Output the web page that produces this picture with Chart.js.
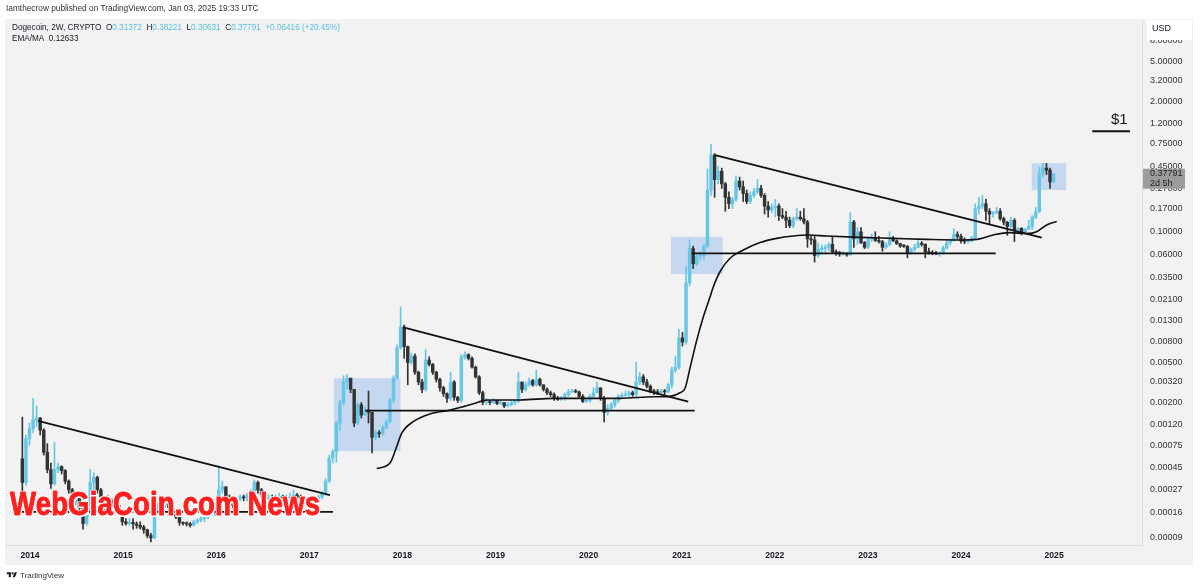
<!DOCTYPE html>
<html>
<head>
<meta charset="utf-8">
<script src="https://cdn.jsdelivr.net/npm/chart.js@4.4.1/dist/chart.umd.min.js"></script>
<style>
  html, body { margin: 0; padding: 0; background: #fff; }
  #wrap { position: relative; width: 1200px; height: 586px; overflow: hidden; font-family: "Liberation Sans", Arial, sans-serif; }
  canvas { position: absolute; left: 0; top: 0; }
  .txt { position: absolute; white-space: nowrap; color: #131722; line-height: 1.15; }
  .v { color: #5cc0e0; }
  #mark { left: 10px; top: 484px; font-family: "Liberation Sans", Arial, sans-serif;
          font-weight: bold; font-size: 34px; color: #ff1f1f; letter-spacing: 0.2px;
          transform: scaleX(0.81); transform-origin: 0 0;
          -webkit-text-stroke: 1px #ff1f1f;
          text-shadow: 1.5px 1.5px 0 #fff, -1.5px -1.5px 0 #fff, 1.5px -1.5px 0 #fff, -1.5px 1.5px 0 #fff, 0 0 3px #fff; }
</style>
</head>
<body>
<div id="wrap">
  <canvas id="chart" width="1200" height="586"></canvas>
  <div class="txt" style="left:6px;top:4px;font-size:8.3px;color:#333">Iamthecrow published on TradingView.com, Jan 03, 2025 19:33 UTC</div>
  <div class="txt" style="left:12px;top:23px;font-size:8.2px">Dogecoin, 2W, CRYPTO&nbsp; O<span class="v">0.31372</span>&nbsp; H<span class="v">0.38221</span>&nbsp; L<span class="v">0.30631</span>&nbsp; C<span class="v">0.37791</span>&nbsp; <span class="v">+0.06416 (+20.45%)</span></div>
  <div class="txt" style="left:12px;top:34px;font-size:8.2px">EMA/MA&nbsp; 0.12633</div>
  <div class="txt" style="left:1111px;top:110px;font-size:15px">$1</div>
  <div class="txt" id="mark">WebGiaCoin.com News</div>
  <div class="txt" style="left:6px;top:571px;font-size:8px;color:#333">
    <svg width="12" height="8" viewBox="0 0 36 28" style="vertical-align:-1px"><path d="M14 22H7V11H0V4h14v18zM28 22h-8l7.5-18h8L28 22z" fill="#131722"/><circle cx="20" cy="8" r="4" fill="#131722"/></svg> TradingView</div>
</div>
<script>
// =======================
// Data (2W candles, first bar opens 2013-12-02)
// =======================
const firstOpen = 0.00055;
const closes = [
  0.00032, 0.00088, 0.00110, 0.00135, 0.00140, 0.00106, 0.00064, 0.00043, 0.00031, 0.00043,
  0.00046, 0.00042, 0.00033, 0.00027, 0.00021, 0.00023, 0.00018, 0.000125, 0.00017, 0.00032,
  0.00036, 0.00027, 0.00020, 0.00018, 0.00021, 0.00020, 0.00019, 0.00016, 0.00013, 0.000125,
  0.000128, 0.000124, 0.00012, 0.000115, 0.000108, 0.000095, 0.00009, 0.000175, 0.000185, 0.00019,
  0.00021, 0.00018, 0.000155, 0.000145, 0.000128, 0.000125, 0.000124, 0.00012, 0.00013, 0.000135,
  0.00014, 0.000145, 0.00015, 0.000158, 0.000175, 0.00027, 0.00029, 0.00023, 0.00021, 0.00019,
  0.00022, 0.00023, 0.000225, 0.00024, 0.00025, 0.00032, 0.00027, 0.00024, 0.00022, 0.000225,
  0.00022, 0.000228, 0.00023, 0.00022, 0.000225, 0.00023, 0.00024, 0.00023, 0.00022, 0.00021,
  0.000205, 0.00021, 0.00022, 0.00023, 0.00025, 0.00033, 0.00056, 0.00065, 0.00125, 0.0020,
  0.0032, 0.0035, 0.0027, 0.00125, 0.0019, 0.0015, 0.00168, 0.0016, 0.0009, 0.0010,
  0.00098, 0.00112, 0.00128, 0.00212, 0.0035, 0.0070, 0.0113, 0.0072, 0.0050, 0.0058,
  0.0040, 0.0032, 0.0027, 0.0053, 0.0048, 0.0040, 0.0034, 0.0028, 0.00245, 0.0022,
  0.0032, 0.00225, 0.0021, 0.0057, 0.0060, 0.0055, 0.0045, 0.0036, 0.0025, 0.0020,
  0.00205, 0.0020, 0.0021, 0.00195, 0.0020, 0.00185, 0.0019, 0.0020, 0.00205, 0.0032,
  0.0027, 0.0030, 0.0033, 0.0030, 0.0034, 0.0030, 0.0027, 0.0025, 0.0024, 0.0022,
  0.00215, 0.0022, 0.0024, 0.00255, 0.0026, 0.00255, 0.0023, 0.00205, 0.0021, 0.0023,
  0.0025, 0.0028, 0.0022, 0.0016, 0.00175, 0.0019, 0.0021, 0.0023, 0.00235, 0.0024,
  0.0025, 0.0024, 0.0032, 0.0036, 0.0032, 0.0029, 0.0026, 0.00255, 0.0025, 0.0026,
  0.00255, 0.0030, 0.0042, 0.0045, 0.0088, 0.0080, 0.031, 0.068, 0.048, 0.057,
  0.058, 0.072, 0.26, 0.58, 0.33, 0.40, 0.30, 0.22, 0.19, 0.21,
  0.32, 0.28, 0.24, 0.20, 0.23, 0.25, 0.27, 0.23, 0.18, 0.165,
  0.175, 0.18, 0.145, 0.14, 0.13, 0.115, 0.135, 0.14, 0.135, 0.125,
  0.085, 0.083, 0.058, 0.067, 0.068, 0.070, 0.075, 0.063, 0.062, 0.060,
  0.061, 0.059, 0.125, 0.085, 0.10, 0.078, 0.070, 0.085, 0.088, 0.082,
  0.080, 0.070, 0.074, 0.084, 0.081, 0.076, 0.072, 0.0715, 0.061, 0.067,
  0.070, 0.077, 0.075, 0.063, 0.062, 0.061, 0.060, 0.061, 0.069, 0.078,
  0.083, 0.094, 0.090, 0.081, 0.080, 0.081, 0.087, 0.17, 0.18, 0.19,
  0.16, 0.15, 0.155, 0.16, 0.135, 0.124, 0.113, 0.13, 0.103, 0.108,
  0.099, 0.106, 0.113, 0.140, 0.158, 0.38, 0.43, 0.41, 0.31372, 0.37791
];
const highs = [
  0.00143, 0.00095, 0.00125, 0.00220, 0.00185, 0.00142, 0.00110, 0.00078, 0.00050, 0.00080,
  0.00050, 0.00047, 0.00043, 0.00034, 0.00028, 0.00026, 0.00024, 0.00018, 0.00018, 0.00043,
  0.00040, 0.00037, 0.00028, 0.00022, 0.00024, 0.00022, 0.00021, 0.00020, 0.00017, 0.00014,
  0.00014, 0.00014, 0.00013, 0.00013, 0.00012, 0.00011, 0.0001, 0.000185, 0.00020, 0.00021,
  0.00023, 0.00021, 0.00019, 0.00016, 0.00015, 0.00013, 0.00013, 0.000128, 0.000135, 0.00014,
  0.000145, 0.00015, 0.000155, 0.000165, 0.00018, 0.00047, 0.00033, 0.00029, 0.00024, 0.00022,
  0.00023, 0.00024, 0.00024, 0.00025, 0.00027, 0.00034, 0.00033, 0.00028, 0.00025, 0.00024,
  0.00024, 0.00024, 0.00025, 0.00024, 0.00024, 0.00025, 0.00027, 0.00025, 0.00024, 0.00023,
  0.00022, 0.00022, 0.00023, 0.00024, 0.00026, 0.00035, 0.00060, 0.00068, 0.00130, 0.00210,
  0.0037, 0.0038, 0.0034, 0.0027, 0.0020, 0.0020, 0.0018, 0.0026, 0.0016, 0.00106,
  0.00105, 0.00118, 0.00135, 0.0022, 0.0037, 0.0075, 0.0179, 0.0118, 0.0073, 0.0062,
  0.0061, 0.0041, 0.0034, 0.0067, 0.0057, 0.0049, 0.0041, 0.0035, 0.0029, 0.0025,
  0.0040, 0.0033, 0.0023, 0.0060, 0.0064, 0.0061, 0.0057, 0.0046, 0.0037, 0.0026,
  0.0022, 0.0021, 0.0022, 0.0021, 0.0021, 0.0020, 0.0020, 0.00205, 0.0021, 0.0040,
  0.0032, 0.0032, 0.0035, 0.0034, 0.0042, 0.0035, 0.0030, 0.0028, 0.0026, 0.0025,
  0.0023, 0.0023, 0.0025, 0.0027, 0.0027, 0.0027, 0.0026, 0.0024, 0.0022, 0.0024,
  0.0028, 0.0032, 0.0028, 0.0023, 0.0019, 0.0020, 0.0022, 0.0024, 0.0025, 0.0026,
  0.0026, 0.0026, 0.0050, 0.0040, 0.0038, 0.0034, 0.0030, 0.0027, 0.0027, 0.0027,
  0.0027, 0.0031, 0.0045, 0.0058, 0.0107, 0.0100, 0.045, 0.083, 0.072, 0.060,
  0.063, 0.075, 0.42, 0.74, 0.60, 0.45, 0.43, 0.31, 0.25, 0.22,
  0.36, 0.35, 0.32, 0.26, 0.25, 0.27, 0.33, 0.29, 0.24, 0.20,
  0.19, 0.21, 0.19, 0.17, 0.16, 0.14, 0.14, 0.17, 0.16, 0.17,
  0.13, 0.09, 0.09, 0.077, 0.074, 0.074, 0.078, 0.088, 0.066, 0.064,
  0.064, 0.062, 0.155, 0.13, 0.11, 0.11, 0.08, 0.088, 0.095, 0.10,
  0.09, 0.082, 0.078, 0.10, 0.09, 0.083, 0.077, 0.075, 0.073, 0.069,
  0.075, 0.082, 0.08, 0.076, 0.069, 0.065, 0.064, 0.063, 0.072, 0.083,
  0.085, 0.107, 0.10, 0.095, 0.087, 0.082, 0.09, 0.19, 0.22, 0.23,
  0.21, 0.17, 0.16, 0.175, 0.17, 0.14, 0.127, 0.14, 0.135, 0.11,
  0.11, 0.108, 0.13, 0.145, 0.175, 0.44, 0.48, 0.48, 0.43, 0.38221
];
const lows = [
  0.00024, 0.00030, 0.00075, 0.00100, 0.00115, 0.00095, 0.00060, 0.00040, 0.00028, 0.00030,
  0.00040, 0.00039, 0.00031, 0.00025, 0.00020, 0.00019, 0.00016, 0.00011, 0.00012, 0.00016,
  0.00027, 0.00025, 0.00019, 0.00016, 0.00017, 0.00018, 0.00017, 0.00015, 0.00012, 0.00012,
  0.00012, 0.00011, 0.000112, 0.00011, 0.00010, 0.00009, 0.000082, 0.000088, 0.00016, 0.00017,
  0.00018, 0.000175, 0.00015, 0.00014, 0.00012, 0.00012, 0.000118, 0.000115, 0.000118, 0.000125,
  0.00013, 0.00013, 0.00014, 0.00015, 0.00015, 0.00017, 0.00025, 0.00022, 0.0002, 0.00018,
  0.00018, 0.00021, 0.00021, 0.00021, 0.00023, 0.00024, 0.00025, 0.00023, 0.00021, 0.00021,
  0.00021, 0.00021, 0.00022, 0.00021, 0.00021, 0.00022, 0.00022, 0.00022, 0.00021, 0.0002,
  0.00019, 0.0002, 0.00021, 0.00022, 0.00022, 0.00024, 0.00032, 0.00050, 0.00051, 0.00105,
  0.0019, 0.0027, 0.0025, 0.00115, 0.0012, 0.0014, 0.0015, 0.00125, 0.00063, 0.00085,
  0.0009, 0.00095, 0.0011, 0.00125, 0.0020, 0.0034, 0.0068, 0.0055, 0.0030, 0.0048,
  0.0038, 0.0030, 0.0025, 0.0026, 0.0046, 0.0038, 0.0032, 0.0026, 0.0023, 0.0020,
  0.0021, 0.0021, 0.0020, 0.0020, 0.0054, 0.0053, 0.0044, 0.0035, 0.0024, 0.0019,
  0.0019, 0.0019, 0.00195, 0.0019, 0.0019, 0.00178, 0.0018, 0.00185, 0.0019, 0.0020,
  0.0025, 0.0026, 0.0029, 0.0029, 0.0029, 0.0029, 0.0026, 0.0024, 0.0023, 0.0021,
  0.0021, 0.0021, 0.0021, 0.0023, 0.0025, 0.0025, 0.0022, 0.0020, 0.0020, 0.0020,
  0.0022, 0.0025, 0.0021, 0.00128, 0.0015, 0.0017, 0.0018, 0.0020, 0.0022, 0.0023,
  0.0023, 0.0023, 0.0023, 0.0030, 0.0030, 0.0028, 0.0025, 0.0024, 0.0024, 0.0024,
  0.0024, 0.0025, 0.0028, 0.0040, 0.0043, 0.0073, 0.0076, 0.029, 0.043, 0.046,
  0.052, 0.053, 0.070, 0.23, 0.22, 0.30, 0.27, 0.16, 0.17, 0.17,
  0.20, 0.26, 0.20, 0.19, 0.19, 0.22, 0.24, 0.22, 0.15, 0.14,
  0.155, 0.14, 0.13, 0.135, 0.11, 0.11, 0.11, 0.13, 0.13, 0.12,
  0.07, 0.075, 0.05, 0.056, 0.06, 0.06, 0.065, 0.062, 0.058, 0.057,
  0.058, 0.057, 0.058, 0.07, 0.075, 0.076, 0.068, 0.068, 0.08, 0.08,
  0.077, 0.064, 0.068, 0.072, 0.08, 0.075, 0.07, 0.07, 0.055, 0.06,
  0.064, 0.069, 0.072, 0.055, 0.06, 0.059, 0.059, 0.057, 0.06, 0.067,
  0.074, 0.08, 0.085, 0.077, 0.076, 0.077, 0.079, 0.085, 0.15, 0.17,
  0.13, 0.12, 0.14, 0.15, 0.13, 0.117, 0.092, 0.11, 0.08, 0.095,
  0.093, 0.097, 0.105, 0.105, 0.135, 0.155, 0.35, 0.37, 0.27, 0.30631
];

// EMA/MA line (decimal year, price)
const maX = [2017.724, 2017.867, 2017.939, 2017.993, 2018.117, 2018.296, 2018.511, 2018.654, 2018.798, 2018.905,
             2019.263, 2019.621, 2019.980, 2020.337, 2020.695, 2020.874, 2020.982, 2021.036, 2021.089, 2021.161,
             2021.232, 2021.304, 2021.339, 2021.411, 2021.519, 2021.662, 2021.841, 2022.020, 2022.199, 2022.360,
             2022.557, 2022.915, 2023.273, 2023.632, 2023.990, 2024.169, 2024.347, 2024.526, 2024.706, 2024.813,
             2024.920, 2025.028];
const maY = [0.00044, 0.00050, 0.00073, 0.00099, 0.00129, 0.00154, 0.00168, 0.00182, 0.00199, 0.00212,
             0.00212, 0.00220, 0.00220, 0.00220, 0.00228, 0.00230, 0.00250, 0.00277, 0.0044, 0.0083,
             0.0142, 0.0224, 0.0282, 0.0400, 0.0545, 0.0658, 0.0780, 0.0859, 0.0907, 0.0928,
             0.0907, 0.0880, 0.0860, 0.0840, 0.0828, 0.0840, 0.0930, 0.0980, 0.0960, 0.1000,
             0.1170, 0.12633];

// Drawn lines: trendlines, supports and the $1 level
const lineX0 = [2014.086, 2013.890, 2018.010, 2017.600, 2021.358, 2021.107, 2025.410];
const lineY0 = [0.00131, 0.000163, 0.01119, 0.001657, 0.580, 0.0610, 1.0];
const lineX1 = [2017.222, 2017.255, 2021.070, 2021.140, 2024.867, 2024.373, 2025.815];
const lineY1 = [0.000240, 0.000163, 0.00204, 0.001657, 0.0873, 0.0610, 1.0];

// Highlight boxes
const boxX0 = [2017.265, 2020.885, 2024.760];
const boxX1 = [2017.980, 2021.440, 2025.130];
const boxY0 = [0.000658, 0.0380, 0.260];
const boxY1 = [0.00348, 0.0893, 0.480];

// Axis ticks
const yTicks = [8, 5, 3.2, 2, 1.2, 0.75, 0.45, 0.27, 0.17, 0.1, 0.06, 0.035, 0.021, 0.013, 0.008,
                0.005, 0.0032, 0.002, 0.0012, 0.00075, 0.00045, 0.00027, 0.00016, 0.00009];
const xTicks = [2014, 2015, 2016, 2017, 2018, 2019, 2020, 2021, 2022, 2023, 2024, 2025];

// =======================
// Build candles
// =======================
const UP = '#66c6e6', DOWN = '#333333';
const startMs = Date.UTC(2013, 11, 2);
const dayMs = 86400000;

function decYear(ms) {
    const y = new Date(ms).getUTCFullYear();
    const a = Date.UTC(y, 0, 1), b = Date.UTC(y + 1, 0, 1);
    return y + (ms - a) / (b - a);
}

const candleX = closes.map((_, i) => decYear(startMs + i * 14 * dayMs));
const opens = closes.map((c, i) => i === 0 ? firstOpen : closes[i - 1]);
const colors = closes.map((c, i) => c >= opens[i] ? UP : DOWN);
const wicks = candleX.map((x, i) => ({ x, y: [lows[i], highs[i]] }));
const bodies = candleX.map((x, i) => ({ x, y: [Math.min(opens[i], closes[i]), Math.max(opens[i], closes[i])] }));

const lineSets = lineX0.map((x0, k) => ({
    type: 'line',
    data: [{ x: x0, y: lineY0[k] }, { x: lineX1[k], y: lineY1[k] }],
    borderColor: '#111',
    borderWidth: 1.8,
    pointRadius: 0,
    order: 1
}));

// =======================
// Plugins
// =======================
const panelPlugin = {
    id: 'panel',
    beforeDraw(chart) {
        const ctx = chart.ctx;
        ctx.save();
        ctx.fillStyle = '#f2f2f2';
        ctx.fillRect(5, 19, 1188, 546);
        ctx.restore();
    },
    beforeDatasetsDraw(chart) {
        const { ctx, scales: { x, y }, chartArea: a } = chart;
        ctx.save();
        ctx.beginPath();
        ctx.rect(a.left, a.top, a.right - a.left, a.bottom - a.top);
        ctx.clip();
        ctx.fillStyle = 'rgba(96,152,236,0.30)';
        boxX0.forEach((x0, k) => {
            const px0 = x.getPixelForValue(x0), px1 = x.getPixelForValue(boxX1[k]);
            const py0 = y.getPixelForValue(boxY1[k]), py1 = y.getPixelForValue(boxY0[k]);
            ctx.fillRect(px0, py0, px1 - px0, py1 - py0);
        });
        ctx.restore();
    },
    afterDraw(chart) {
        const { ctx, scales: { y } } = chart;
        ctx.save();
        // USD badge (covers the top tick like the original)
        ctx.fillStyle = '#fff';
        ctx.fillRect(1147, 20, 45, 20);
        ctx.fillStyle = '#131722';
        ctx.font = '9px "Liberation Sans", Arial, sans-serif';
        ctx.textBaseline = 'middle';
        ctx.fillText('USD', 1152, 28.5);
        // last price label
        const py = y.getPixelForValue(closes[closes.length - 1]);
        ctx.fillStyle = '#9c9c9c';
        ctx.fillRect(1143, py - 5, 42, 20);
        ctx.fillStyle = '#222';
        ctx.fillText(closes[closes.length - 1].toFixed(5), 1150, py);
        ctx.fillText('2d 5h', 1150, py + 10);
        ctx.restore();
    }
};

// =======================
// Chart
// =======================
Chart.defaults.font.family = '"Liberation Sans", Arial, sans-serif';
new Chart(document.getElementById('chart'), {
    type: 'bar',
    data: {
        datasets: [
            { type: 'bar', data: wicks, backgroundColor: colors, barThickness: 1, grouped: false, order: 4 },
            { type: 'bar', data: bodies, backgroundColor: colors, barThickness: 2.8, grouped: false, minBarLength: 1, order: 3 },
            {
                type: 'line',
                data: maX.map((x, i) => ({ x, y: maY[i] })),
                borderColor: '#111', borderWidth: 1.6, pointRadius: 0,
                cubicInterpolationMode: 'monotone', order: 2
            },
            ...lineSets
        ]
    },
    options: {
        responsive: false,
        animation: false,
        events: [],
        layout: { padding: { left: 6, top: 20, right: 8, bottom: 21 } },
        plugins: { legend: { display: false }, tooltip: { enabled: false } },
        scales: {
            x: {
                type: 'linear',
                offset: false,
                min: 2013.7422,
                max: 2025.9441,
                grid: { display: false, drawTicks: false },
                border: { display: true, color: '#dcdcdc' },
                afterBuildTicks: s => { s.ticks = xTicks.map(v => ({ value: v })); },
                afterFit: s => { s.height = 20; },
                ticks: {
                    autoSkip: false, maxRotation: 0, padding: 5,
                    color: '#131722', font: { size: 8.6, weight: 'bold' },
                    callback: v => String(v)
                }
            },
            y: {
                type: 'logarithmic',
                position: 'right',
                min: 7.64e-5,
                max: 12.8,
                grid: { display: false, drawTicks: false },
                border: { display: true, color: '#dcdcdc' },
                afterBuildTicks: s => { s.ticks = yTicks.map(v => ({ value: v })); },
                afterFit: s => { s.width = 50; },
                ticks: {
                    autoSkip: false, padding: 8,
                    color: '#333', font: { size: 9 },
                    callback: v => Number(v).toFixed(5)
                }
            }
        }
    },
    plugins: [panelPlugin]
});
</script>
</body>
</html>
